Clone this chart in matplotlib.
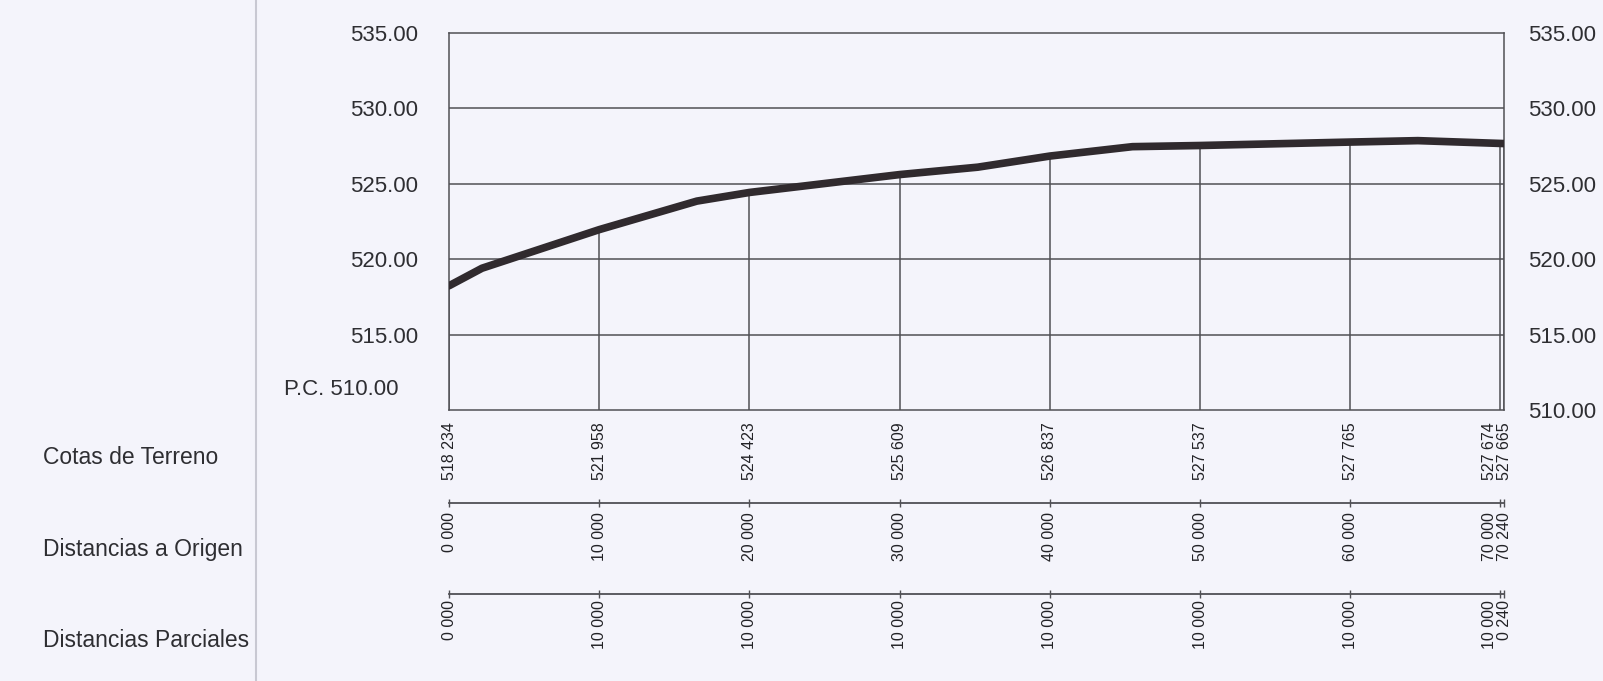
import matplotlib.pyplot as plt
import matplotlib.transforms as mtransforms
import numpy as np

# terrain profile (distance m, elevation m)
perfil_dist = [0, 2.2, 10, 16.5, 20, 30, 35.2, 40, 45.5, 50, 60, 64.5, 70, 70.24]
perfil_cota = [518.234, 519.40, 521.958, 523.85, 524.423, 525.609, 526.10, 526.837,
               527.46, 527.537, 527.765, 527.86, 527.674, 527.665]

# labelled stations
estaciones = [0, 10, 20, 30, 40, 50, 60, 70, 70.24]
cotas_terreno = [518.234, 521.958, 524.423, 525.609, 526.837, 527.537, 527.765, 527.674, 527.665]
dist_origen = ["0 000", "10 000", "20 000", "30 000", "40 000", "50 000", "60 000", "70 000", "70 240"]
dist_parcial = ["0 000", "10 000", "10 000", "10 000", "10 000", "10 000", "10 000", "10 000", "0 240"]
cota_labels = ["%d %03d" % (int(c), round((c - int(c)) * 1000)) for c in cotas_terreno]

y_ticks = [515, 520, 525, 530, 535]
y_ticks_right = [510, 515, 520, 525, 530, 535]
plano_comparacion = 510
filas = ["Cotas de Terreno", "Distancias a Origen", "Distancias Parciales"]

bg = "#f4f4fb"
ink = "#2e2e32"
grid_c = "#505055"

plt.rcParams['font.family'] = ['Liberation Sans', 'DejaVu Sans']

fig = plt.figure(figsize=(16.03, 6.81), dpi=100, facecolor=bg)
ax = fig.add_axes([0.2801, 0.398, 0.6582, 0.5536])
ax.set_facecolor(bg)
ax.set_xlim(0, 70.24)
ax.set_ylim(510, 535)

for y in y_ticks[:-1]:
    ax.axhline(y, color=grid_c, lw=1.1, zorder=1)

# vertical station lines up to terrain
ax.vlines(estaciones, plano_comparacion, cotas_terreno, color=grid_c, lw=1.1, zorder=1)

ax.plot(perfil_dist, perfil_cota, color="#302a2e", lw=5.5,
        solid_capstyle='round', solid_joinstyle='round', zorder=3)

for s in ax.spines.values():
    s.set_color(grid_c)
    s.set_linewidth(1.1)

ax.set_xticks([])
ax.set_yticks(y_ticks)
ax.set_yticklabels(["%.2f" % v for v in y_ticks], fontsize=16, color=ink)
ax.tick_params(axis='y', length=0, pad=22)

ax2 = ax.twinx()
ax2.set_ylim(510, 535)
ax2.set_yticks(y_ticks_right)
ax2.set_yticklabels(["%.2f" % v for v in y_ticks_right], fontsize=16, color=ink)
ax2.tick_params(axis='y', length=0, pad=17)
for s in ax2.spines.values():
    s.set_visible(False)

pc = mtransforms.offset_copy(ax.transData, fig=fig, x=-51, y=20, units='dots')
ax.text(0, plano_comparacion, "P.C. %.2f" % plano_comparacion, transform=pc,
        ha='right', va='center', fontsize=16, color=ink)

# bottom guitar rows
trans = mtransforms.blended_transform_factory(ax.transData, fig.transFigure)
fila_top = [0.3803, 0.2482, 0.1189]
fila_linea = [None, 0.2614, 0.1278]
fila_txt = [cota_labels, dist_origen, dist_parcial]

for top, linea, textos in zip(fila_top, fila_linea, fila_txt):
    if linea is not None:
        ax.plot([0, 70.24], [linea, linea], transform=trans, color=grid_c, lw=1.3, clip_on=False)
        ax.plot(estaciones, [linea] * len(estaciones), transform=trans, ls='none',
                marker='|', ms=6, mew=1, color=grid_c, clip_on=False)
    for i, (x, t) in enumerate(zip(estaciones, textos)):
        dx = -11 if i == len(estaciones) - 2 else 0
        tr = mtransforms.offset_copy(trans, fig=fig, x=dx, y=0, units='dots')
        ax.text(x, top, t, transform=tr, rotation=90, ha='center', va='top',
                fontsize=11.5, color="#222226", clip_on=False)

for name, yc in zip(filas, [0.3275, 0.1924, 0.0602]):
    fig.text(0.0268, yc, name, ha='left', va='center', fontsize=16.5, color=ink)

# separator line
fig.add_artist(plt.Line2D([0.1597, 0.1597], [0, 1], color="#c8c8d2", lw=1.5))

fig.savefig("out.png", dpi=100, facecolor=bg)
